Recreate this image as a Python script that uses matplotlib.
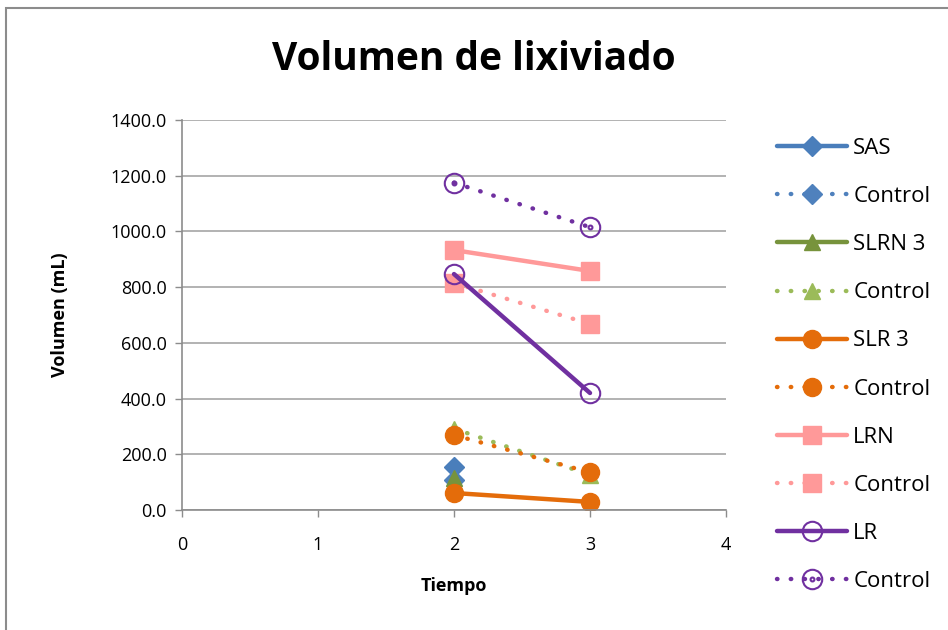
import numpy as np
import matplotlib.pyplot as plt
from matplotlib.path import Path
from matplotlib.patches import Rectangle

# Datos
tiempo = [2, 3]
sas = [155, np.nan]
sas_control = [108, np.nan]
slrn3 = [115, np.nan]
slrn3_control = [292, 126]
slr3 = [61, 29]
slr3_control = [269, 135]
lrn = [933, 858]
lrn_control = [815, 668]
lr = [847, 420]
lr_control = [1175, 1015]

plt.rcParams['font.family'] = ['Open Sans', 'DejaVu Sans']

fig = plt.figure(figsize=(9.48, 6.3), dpi=100)
ax = fig.add_axes([182 / 948, 1 - 510 / 630, 544 / 948, 390 / 630])

# borde del gráfico
fig.patches.append(Rectangle((6 / 948, -0.1), 1.2, 1 - 8 / 630 + 0.1,
                             transform=fig.transFigure, fill=False,
                             edgecolor='#8c8c8c', linewidth=1.5))

dotted = (0, (0.1, 3.0))
circ_dot = Path.make_compound_path(Path.unit_circle(),
                                   Path.circle(center=(0, 0), radius=0.2))

series = [
    (sas, 'SAS', '#4a7ebb', '-', 'D', 10, True),
    (sas_control, 'Control', '#4f81bd', dotted, 'D', 10, True),
    (slrn3, 'SLRN 3', '#77933c', '-', '^', 12, True),
    (slrn3_control, 'Control', '#9bbb59', dotted, '^', 12, True),
    (slr3, 'SLR 3', '#e46c0a', '-', 'o', 13, True),
    (slr3_control, 'Control', '#e46c0a', dotted, 'o', 13, True),
    (lrn, 'LRN', '#ff9999', '-', 's', 13, True),
    (lrn_control, 'Control', '#ff9999', dotted, 's', 13, True),
    (lr, 'LR', '#7030a0', '-', 'o', 14, False),
    (lr_control, 'Control', '#7030a0', dotted, circ_dot, 14, False),
]

for vals, label, color, ls, mk, ms, filled in series:
    ax.plot(tiempo, vals, color=color, linestyle=ls, linewidth=3.2,
            marker=mk, markersize=ms, label=label,
            markerfacecolor=color if filled else 'none',
            markeredgecolor=color, markeredgewidth=1.5 if not filled else 1,
            dash_capstyle='round', solid_capstyle='round')

ax.set_xlim(0, 4)
ax.set_ylim(0, 1400)
ax.set_xticks([0, 1, 2, 3, 4])
ax.set_yticks(np.arange(0, 1401, 200))
ax.set_yticklabels([f"{v:.1f}" for v in np.arange(0, 1401, 200)])
ax.tick_params(axis='both', labelsize=13, color='#8c8c8c', length=5, width=1)
ax.tick_params(axis='x', pad=14)
ax.tick_params(axis='y', pad=6)
ax.grid(axis='y', color='#a6a6a6', linewidth=1.2)
ax.set_axisbelow(True)
for s in ['top', 'right']:
    ax.spines[s].set_visible(False)
for s in ['left', 'bottom']:
    ax.spines[s].set_color('#8c8c8c')
    ax.spines[s].set_linewidth(1.2)

ax.set_xlabel('Tiempo', fontsize=13, fontweight='bold', labelpad=16)
ax.set_ylabel('Volumen (mL)', fontsize=13, fontweight='bold', labelpad=30)
fig.text(0.5, 1 - 60 / 630, 'Volumen de lixiviado', fontsize=28,
         fontweight='bold', ha='center', va='center')

fig.legend(loc='upper left', bbox_to_anchor=(757 / 948, 1 - 118 / 630),
           frameon=False, fontsize=16, numpoints=1, handlelength=3.15,
           labelspacing=1.22, handletextpad=0.28)

fig.savefig('out.png', dpi=100)
